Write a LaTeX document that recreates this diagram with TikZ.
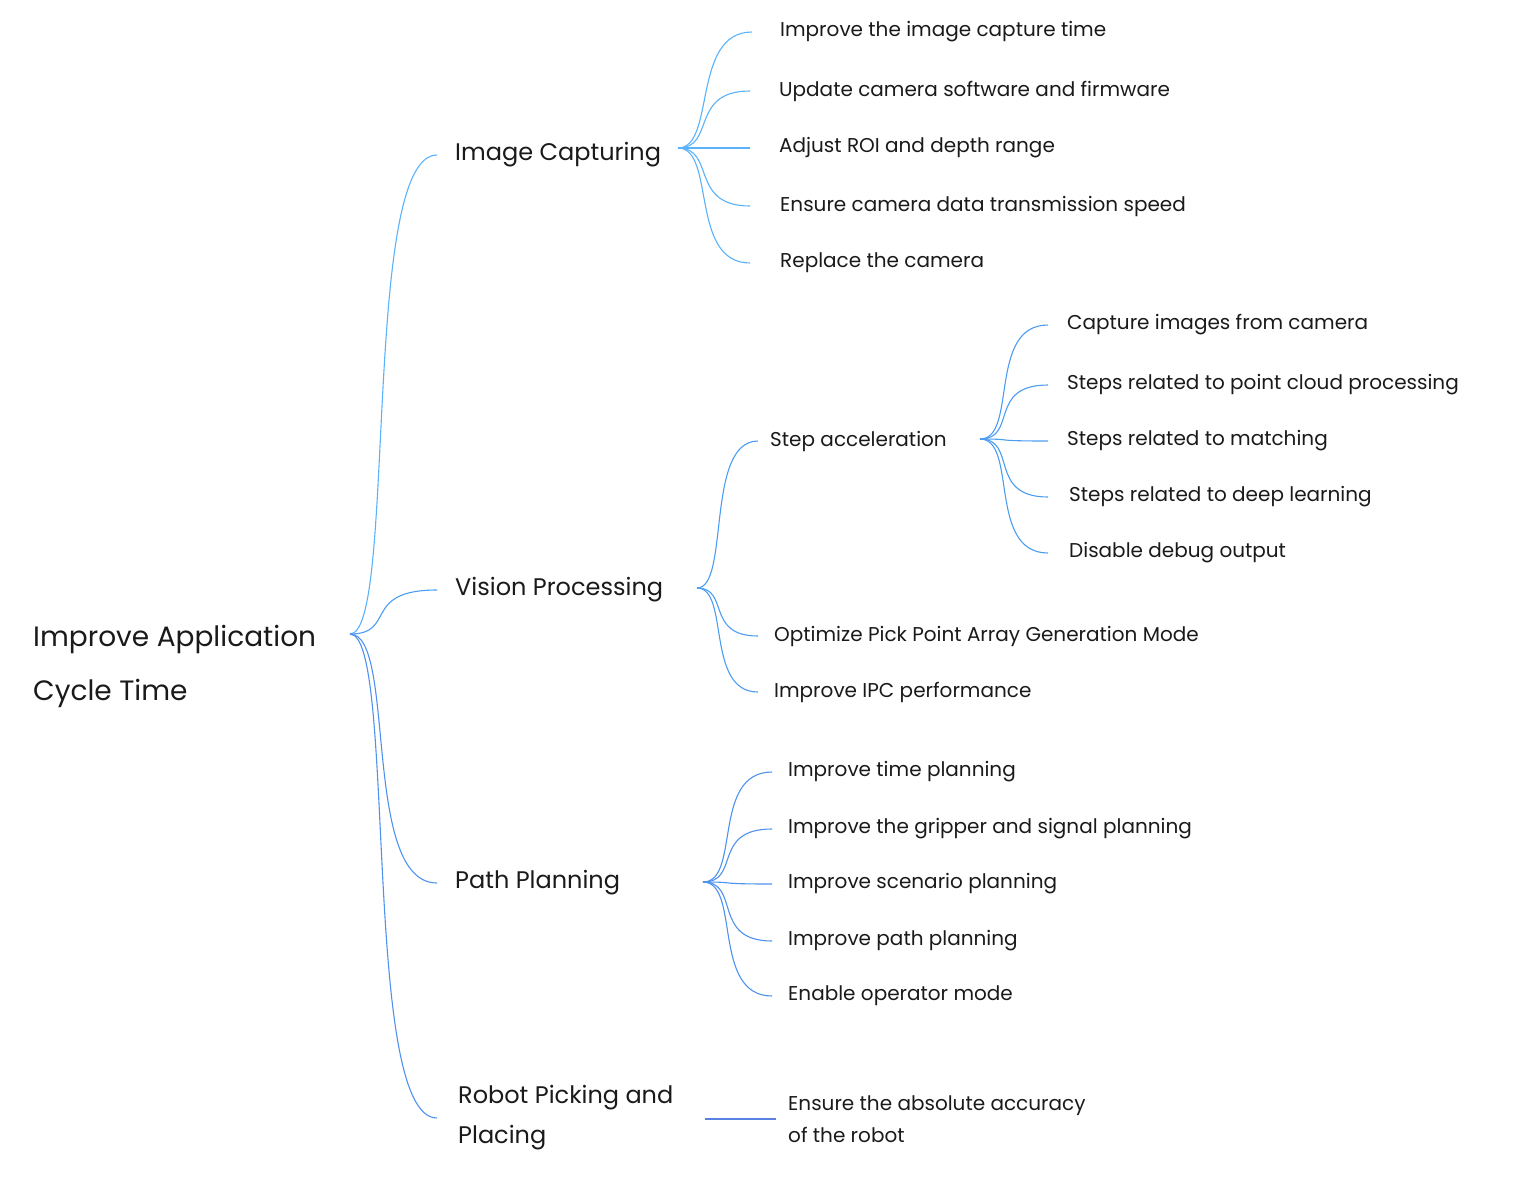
\documentclass[tikz,border=0pt]{standalone}
\usepackage{fontspec}
\setmainfont{Poppins}
\definecolor{capblue}{HTML}{5AB2FA}
\definecolor{visblue}{HTML}{4C9DF2}
\definecolor{pathblue}{HTML}{4F92EE}
\definecolor{robblue}{HTML}{5A80E2}
\definecolor{ink}{HTML}{1A1A1A}
\tikzset{
  rootnode/.style={anchor=west, inner sep=0pt, align=left, text=ink, font=\fontsize{28}{54}\selectfont},
  topic/.style={anchor=west, inner ysep=0pt, inner xsep=18pt, align=left, text=ink, font=\fontsize{24}{40}\selectfont},
  leaf/.style={anchor=west, inner ysep=0pt, inner xsep=16pt, align=left, text=ink, font=\fontsize{20}{32}\selectfont},
  link/.style={line width=1.1pt, out=0, in=180, out distance=38pt, in distance=61pt},
  rootlink/.style={link, out distance=47pt, in distance=76pt},
  vislink/.style={link, out distance=33pt, in distance=53pt},
}
\begin{document}
\begin{tikzpicture}[x=1pt,y=-1pt]
    \useasboundingbox (0,0) rectangle (1540,1179);

    % root
    \node[rootnode] (root) at (33,666) {Improve Application\\Cycle Time};
    \coordinate (rootfan) at (350,634);

    % main topics
    \node[topic] (capture) at (437,155) {Image Capturing};
    \node[topic] (vision) at (437,590) {Vision Processing};
    \node[topic] (path) at (437,883) {Path Planning};
    \node[topic, inner xsep=21pt] (robot) at (437,1118) {Robot Picking and\\Placing};

    \draw[rootlink, capblue] (rootfan) to (capture.west);
    \draw[rootlink, visblue] (rootfan) to (vision.west);
    \draw[rootlink, pathblue] (rootfan) to (path.west);
    \draw[rootlink, pathblue] (rootfan) to (robot.west);

    % image capturing
    \coordinate (capfan) at (678,148);
    \node[leaf, inner xsep=28pt] (cap1) at (752,32) {Improve the image capture time};
    \node[leaf, inner xsep=29pt] (cap2) at (750,91) {Update camera software and firmware};
    \node[leaf, inner xsep=29pt] (cap3) at (750,148) {Adjust ROI and depth range};
    \node[leaf, inner xsep=30pt] (cap4) at (750,206) {Ensure camera data transmission speed};
    \node[leaf, inner xsep=30pt] (cap5) at (750,263) {Replace the camera};
    \foreach \i in {1,...,5}
      \draw[link, capblue] (capfan) to (cap\i.west);

    % vision processing
    \coordinate (visfan) at (697,588);
    \node[leaf, inner xsep=12pt] (step) at (758,441) {Step acceleration};
    \node[leaf] (pick) at (758,636) {Optimize Pick Point Array Generation Mode};
    \node[leaf] (ipc) at (758,692) {Improve IPC performance};
    \draw[vislink, visblue] (visfan) to (step.west);
    \draw[vislink, visblue] (visfan) to (pick.west);
    \draw[vislink, visblue] (visfan) to (ipc.west);

    \coordinate (stepfan) at (980,439);
    \node[leaf, inner xsep=19pt] (step1) at (1048,325) {Capture images from camera};
    \node[leaf, inner xsep=19pt] (step2) at (1048,385) {Steps related to point cloud processing};
    \node[leaf, inner xsep=19pt] (step3) at (1048,441) {Steps related to matching};
    \node[leaf, inner xsep=21pt] (step4) at (1048,497) {Steps related to deep learning};
    \node[leaf, inner xsep=21pt] (step5) at (1048,553) {Disable debug output};
    \foreach \i in {1,...,5}
      \draw[link, visblue] (stepfan) to (step\i.west);

    % path planning
    \coordinate (pathfan) at (703,882);
    \node[leaf] (plan1) at (772,772) {Improve time planning};
    \node[leaf] (plan2) at (772,829) {Improve the gripper and signal planning};
    \node[leaf] (plan3) at (772,884) {Improve scenario planning};
    \node[leaf] (plan4) at (772,941) {Improve path planning};
    \node[leaf] (plan5) at (772,996) {Enable operator mode};
    \foreach \i in {1,...,5}
      \draw[link, pathblue] (pathfan) to (plan\i.west);

    % robot picking
    \coordinate (robfan) at (705,1119);
    \node[leaf, inner xsep=12pt] (acc) at (776,1119) {Ensure the absolute accuracy\\of the robot};
    \draw[line width=1.1pt, robblue] (robfan) -- (acc.west);
\end{tikzpicture}
\end{document}
